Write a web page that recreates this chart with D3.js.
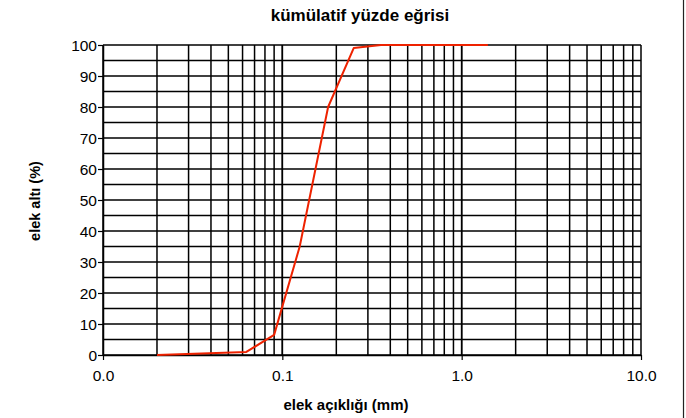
<!DOCTYPE html>
<html>
<head>
<meta charset="utf-8">
<script src="https://cdn.jsdelivr.net/npm/d3@7"></script>
<style>
  html, body { margin: 0; padding: 0; background: #fff; }
  svg { display: block; font-family: "Liberation Sans", Arial, sans-serif; }
</style>
</head>
<body>
<svg id="chart" width="686" height="418"></svg>
<script>
// sieve opening (mm) and cumulative percent passing
const sieveSizes = [0.02, 0.063, 0.09, 0.125, 0.18, 0.25, 0.355, 0.5, 0.71, 1.0, 1.4];
const percentPassing = [0, 1, 6.5, 35, 80, 99, 100, 100, 100, 100, 100];
const xTickValues = [0.01, 0.1, 1, 10];
const xTickLabels = ["0.0", "0.1", "1.0", "10.0"];
const yTickValues = [0, 10, 20, 30, 40, 50, 60, 70, 80, 90, 100];
const yGridValues = [0, 5, 10, 15, 20, 25, 30, 35, 40, 45, 50, 55, 60, 65, 70, 75, 80, 85, 90, 95, 100];
const titleText = "kümülatif yüzde eğrisi";
const xLabelText = "elek açıklığı (mm)";
const yLabelText = "elek altı (%)";

const svg = d3.select("#chart");
const mLeft = 103, mRight = 641, mTop = 45, mBottom = 355;
const FONT = "Liberation Sans, Arial, sans-serif";

const x = d3.scaleLog().domain([0.01, 10]).range([mLeft, mRight]);
const y = d3.scaleLinear().domain([0, 100]).range([mBottom, mTop]);

// vertical log grid lines
const xGrid = [];
[0.01, 0.1, 1].forEach(d => { for (let k = 1; k <= 10; k++) xGrid.push(d * k); });
const g = svg.append("g");
g.selectAll("line.vg").data(xGrid).enter().append("line")
  .attr("x1", d => x(d)).attr("x2", d => x(d))
  .attr("y1", mTop).attr("y2", mBottom)
  .attr("stroke", "#000").attr("stroke-width", 1.5);
g.selectAll("line.hg").data(yGridValues).enter().append("line")
  .attr("x1", mLeft).attr("x2", mRight)
  .attr("y1", d => y(d)).attr("y2", d => y(d))
  .attr("stroke", "#000").attr("stroke-width", 1.5);

// axes
const xAxis = d3.axisBottom(x).tickValues(xTickValues)
  .tickFormat((d, i) => xTickLabels[i]).tickSize(5).tickSizeOuter(0);
const xg = svg.append("g").attr("transform", `translate(0,${mBottom})`).call(xAxis);
xg.select(".domain").attr("stroke", "#000").attr("stroke-width", 1.5);
xg.selectAll(".tick line").attr("stroke", "#000").attr("stroke-width", 1.2);
xg.selectAll("text").attr("font-size", 15.5).attr("fill", "#000")
  .attr("y", 26).attr("dy", "0").attr("font-family", FONT);

const yAxis = d3.axisLeft(y).tickValues(yTickValues).tickSize(5).tickSizeOuter(0);
const yg = svg.append("g").attr("transform", `translate(${mLeft},0)`).call(yAxis);
yg.select(".domain").attr("stroke", "#000").attr("stroke-width", 1.5);
yg.selectAll(".tick line").attr("stroke", "#000").attr("stroke-width", 1.2);
yg.selectAll("text").attr("font-size", 15.5).attr("fill", "#000").attr("x", -6)
  .attr("dy", "0.35em").attr("font-family", FONT);

// curve
const line = d3.line().x(d => x(d[0])).y(d => y(d[1]));
svg.append("path")
  .datum(sieveSizes.map((s, i) => [s, percentPassing[i]]))
  .attr("d", line)
  .attr("fill", "none").attr("stroke", "#ee2200").attr("stroke-width", 2)
  .attr("stroke-linejoin", "round");

// titles
svg.append("text").attr("x", 360).attr("y", 20.5).attr("text-anchor", "middle")
  .attr("font-size", 17).attr("font-weight", "bold").text(titleText);
svg.append("text").attr("x", 346).attr("y", 410).attr("text-anchor", "middle")
  .attr("font-size", 15).attr("font-weight", "bold").text(xLabelText);
svg.append("text").attr("transform", "translate(40,201) rotate(-90)").attr("text-anchor", "middle")
  .attr("font-size", 14.5).attr("font-weight", "bold").text(yLabelText);

// right frame line
svg.append("line").attr("x1", 683.5).attr("x2", 683.5).attr("y1", 0).attr("y2", 418)
  .attr("stroke", "#222").attr("stroke-width", 1.2);
</script>
</body>
</html>
